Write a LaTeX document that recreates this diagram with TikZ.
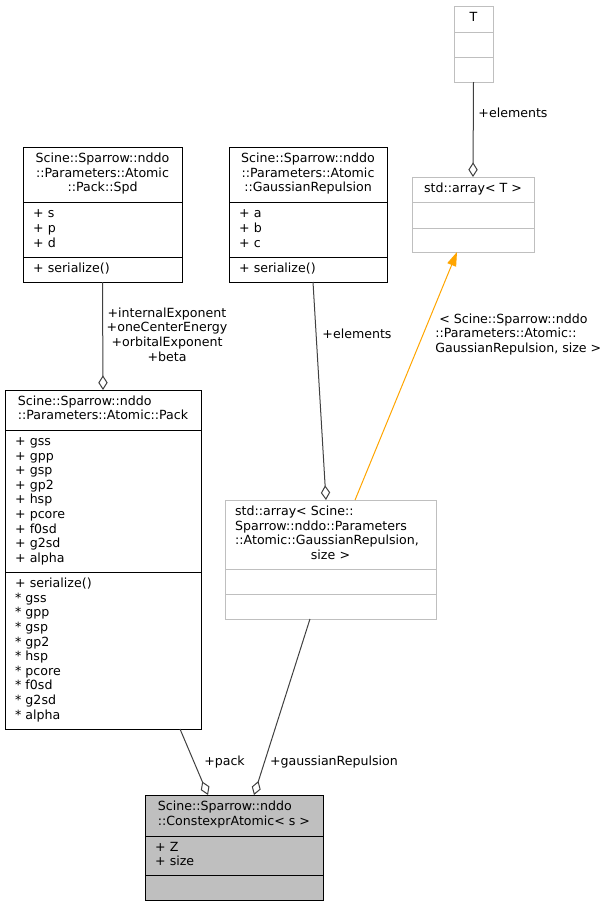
\documentclass[tikz,border=0pt]{standalone}
\usepackage{fontspec}
\setmainfont{DejaVu Sans}
\usepackage{xcolor}
\usetikzlibrary{arrows.meta}
\definecolor{edgegray}{HTML}{404040}
\definecolor{boxgray}{HTML}{BFBFBF}
\definecolor{inhorange}{HTML}{FFA500}
\setlength{\parindent}{0pt}

\begin{document}
\begin{tikzpicture}[x=0.75pt,y=-0.75pt,
    every node/.style={font=\fontsize{9.45}{10.95}\selectfont},
    cls/.style={draw=black,line width=0.75pt,anchor=north west,inner sep=0pt,outer sep=0pt,
                execute at begin node=\strut,execute at end node=\strut},
    ext/.style={cls,draw=boxgray},
    members/.style={align=left,inner xsep=7.5pt},
    agg/.style={draw=edgegray,line width=0.75pt,-{Diamond[open,length=11pt,width=7pt]}},
    inh/.style={draw=inhorange,line width=0.75pt,-{Triangle[length=10.5pt,width=7pt,fill=inhorange]}},
    lbl/.style={inner sep=0pt,align=center}]
                    \useasboundingbox (0,0) rectangle (613,907);

                    \node[cls,align=center,minimum width=119.25pt,minimum height=41.25pt] (spd) at (23,147) {Scine::Sparrow::nddo\\::Parameters::Atomic\\::Pack::Spd};
                    \node[cls,members,text width=104.25pt,minimum height=41.25pt] (spdAttr) at (spd.south west) {+ s\\+ p\\+ d};
                    \node[cls,members,text width=104.25pt,minimum height=18.75pt] (spdOps) at (spdAttr.south west) {+ serialize()};

                    \node[cls,align=center,minimum width=118.5pt,minimum height=41.25pt] (gauss) at (229,147) {Scine::Sparrow::nddo\\::Parameters::Atomic\\::GaussianRepulsion};
                    \node[cls,members,text width=103.5pt,minimum height=41.25pt] (gaussAttr) at (gauss.south west) {+ a\\+ b\\+ c};
                    \node[cls,members,text width=103.5pt,minimum height=18.75pt] (gaussOps) at (gaussAttr.south west) {+ serialize()};

                    \node[ext,minimum width=29.25pt,minimum height=19.5pt] (tparam) at (454,6) {T};
                    \node[ext,minimum width=29.25pt,minimum height=18.75pt] (tparamAttr) at (tparam.south west) {};
                    \node[ext,minimum width=29.25pt,minimum height=18.75pt] (tparamOps) at (tparamAttr.south west) {};

                    \node[ext,minimum width=91.5pt,minimum height=18.75pt] (arrT) at (412,177) {std::array< T >};
                    \node[ext,minimum width=91.5pt,minimum height=19.5pt] (arrTAttr) at (arrT.south west) {};
                    \node[ext,minimum width=91.5pt,minimum height=18pt] (arrTOps) at (arrTAttr.south west) {};

                    \node[cls,align=left,minimum width=147pt,minimum height=30pt] (pack) at (5,390) {Scine::Sparrow::nddo\\::Parameters::Atomic::Pack};
                    \node[cls,members,text width=132pt,minimum height=106.5pt] (packAttr) at (pack.south west) {+ gss\\+ gpp\\+ gsp\\+ gp2\\+ hsp\\+ pcore\\+ f0sd\\+ g2sd\\+ alpha};
                    \node[cls,members,text width=132pt,minimum height=117.75pt] (packOps) at (packAttr.south west) {+ serialize()\\{*} gss\\{*} gpp\\{*} gsp\\{*} gp2\\{*} hsp\\{*} pcore\\{*} f0sd\\{*} g2sd\\{*} alpha};

                    \node[ext,align=left,text width=143pt,inner xsep=7.625pt,minimum height=51.75pt] (arrG) at (225,500) {std::array< Scine::\\Sparrow::nddo::Parameters\\::Atomic::GaussianRepulsion,\\\hspace*{\fill}size >\hspace*{\fill}};
                    \node[ext,minimum width=158.25pt,minimum height=18.75pt] (arrGAttr) at (arrG.south west) {};
                    \node[ext,minimum width=158.25pt,minimum height=18.75pt] (arrGOps) at (arrGAttr.south west) {};

                    \node[cls,fill=boxgray,align=left,minimum width=133.5pt,minimum height=30.75pt] (atomic) at (145,795) {Scine::Sparrow::nddo\\::ConstexprAtomic< s >};
                    \node[cls,fill=boxgray,members,text width=118.5pt,minimum height=29.25pt] (atomicAttr) at (atomic.south west) {+ Z\\+ size};
                    \node[cls,fill=boxgray,minimum width=133.5pt,minimum height=18.75pt] (atomicOps) at (atomicAttr.south west) {};

                    \draw[agg] (spdOps.south) -- (pack.north);
                    \draw[agg] ([xshift=3.75pt]gaussOps.south) -- ([xshift=-3.4pt]arrG.north);
                    \draw[agg] (tparamOps.south) -- (arrT.north);
                    \draw[inh] ([xshift=18.4pt]arrG.north) -- ([xshift=-12pt]arrTOps.south);
                    \draw[agg] ([xshift=57.75pt]packOps.south) -- ([xshift=-19.5pt]atomic.north);
                    \draw[agg] ([xshift=-15.4pt]arrGOps.south) -- ([xshift=15pt]atomic.north);

                    \node[lbl] (lspd) at (167,334.5) {+internalExponent\\+oneCenterEnergy\\+orbitalExponent\\+beta};
                    \node[lbl] (lgauss) at (357,334) {+elements};
                    \node[lbl] (ltparam) at (513,113) {+elements};
                    \node[lbl,align=left,anchor=west] (linh) at (435,334.5) {\hspace*{3pt}< Scine::Sparrow::nddo\\::Parameters::Atomic::\\GaussianRepulsion, size >};
                    \node[lbl] (lpack) at (224.5,762) {+pack};
                    \node[lbl] (lrep) at (334,762) {+gaussianRepulsion};
                \end{tikzpicture}
\end{document}
